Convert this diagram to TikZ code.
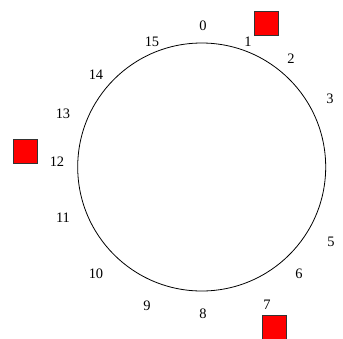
\documentclass[tikz,border=0pt]{standalone}
\usepackage{fontspec}
\setmainfont{Liberation Serif}
\usepackage{tikz}
\usetikzlibrary{positioning}

\tikzset{
  slot/.style={font=\fontsize{14.5}{17}\selectfont, inner sep=0pt},
  marker/.style={draw=black!80, fill=red, minimum size=24bp, inner sep=0pt, line width=0.6pt}
}

\begin{document}
\begin{tikzpicture}[x=1bp, y=-1bp]
        \useasboundingbox (0,0) rectangle (343,339);
        % Draw the ring
        \draw[line width=0.8pt] (201.7,167) circle (124);
        % Draw the slot numbers round it (4 is left out)
        \foreach \n/\p in {0/{203,26}, 1/{248,42}, 2/{291,59}, 3/{330,99},
                           5/{331,242}, 6/{299,274}, 7/{267,305}, 8/{203,314},
                           9/{147,306}, 10/{96,274}, 11/{63,218}, 12/{57,162},
                           13/{63,114}, 14/{96,75}, 15/{152,42}}
            \node[slot] (slot\n) at (\p) {\n};
        % Draw the occupied slots
        \node[marker] (mark1) at (266,23) {};
        \node[marker] (mark12) at (25.5,151) {};
        \node[marker] (mark7) at (274,327) {};
    \end{tikzpicture}
\end{document}
